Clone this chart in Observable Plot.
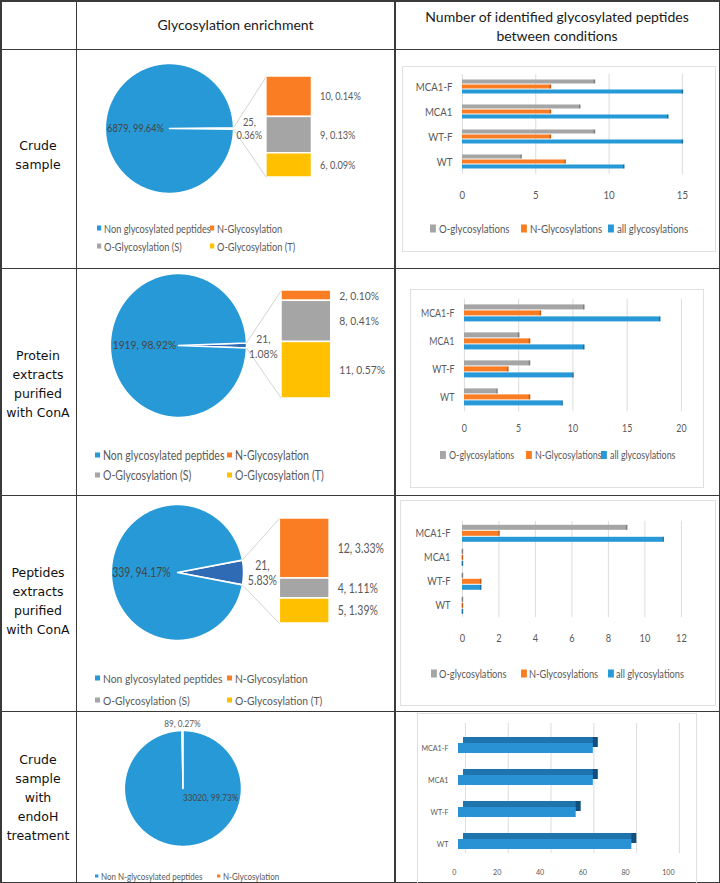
<!DOCTYPE html>
<html>
<head>
<meta charset="utf-8">
<script src="https://cdn.jsdelivr.net/npm/d3@7"></script>
<script src="https://cdn.jsdelivr.net/npm/@observablehq/plot@0.6"></script>
<style>
  html, body { margin: 0; padding: 0; background: #fff; }
  #page { position: relative; width: 720px; height: 883px; overflow: hidden; background: #fff; }
  .t { position: absolute; white-space: nowrap; transform: translate(-50%, -50%); }
</style>
</head>
<body>
<div id="page"></div>
<script>
// ---------------- DATA ----------------
const headerLeft = "Glycosylation enrichment";
const headerRight = ["Number of identified glycosylated peptides", "between conditions"];
const rowLabels = [
  ["Crude", "sample"],
  ["Protein", "extracts", "purified", "with ConA"],
  ["Peptides", "extracts", "purified", "with ConA"],
  ["Crude", "sample", "with", "endoH", "treatment"]
];

const pieSeries = ["Non glycosylated peptides", "N-Glycosylation", "O-Glycosylation (S)", "O-Glycosylation (T)"];
const pieSeriesEndoH = ["Non N-glycosylated peptides", "N-Glycosylation"];
const pieColors = ["#2799d6", "#fb7d23", "#a5a5a5", "#ffc000"];
const otherColor = "#2f6bb5";

const crudeCounts = [6879, 10, 9, 6];
const proteinConACounts = [1919, 2, 8, 11];
const peptideConACounts = [339, 12, 4, 5];
const endoHCounts = [33020, 89];

const conditions = ["MCA1-F", "MCA1", "WT-F", "WT"];
const barSeries = ["O-glycosylations", "N-Glycosylations", "all glycosylations"];
const barColors = ["#a5a5a5", "#fb7d23", "#2799d6"];
const barEdges = ["#7d7d7d", "#c4580f", "#1a6ea3"];

const crudeO = [9, 8, 9, 4], crudeN = [6, 6, 6, 7], crudeAll = [15, 14, 15, 11];
const proteinO = [11, 5, 6, 3], proteinN = [7, 6, 4, 6], proteinAll = [18, 11, 10, 9];
const peptideO = [9, 0, 0, 0], peptideN = [2, 0, 1, 0], peptideAll = [11, 0, 1, 0];
const endoHAll = [63, 63, 55, 81];

const crudeTicks = [0, 5, 10, 15];
const proteinTicks = [0, 5, 10, 15, 20];
const peptideTicks = [0, 2, 4, 6, 8, 10, 12];
const endoHTicks = [0, 20, 40, 60, 80, 100];

// ---------------- HELPERS ----------------
const FONT = "Lato,'Liberation Sans',sans-serif";
const HEAD_FONT = "Lato,'Liberation Sans',sans-serif";
const ROW_FONT = "'DejaVu Sans',Verdana,sans-serif";
const TEXT = "#595959";
const K = 0.84; // horizontal squeeze of the pasted chart images
const page = document.getElementById("page");

function div(css, html = "") {
  const d = document.createElement("div");
  d.style.cssText = css;
  d.innerHTML = html;
  page.appendChild(d);
  return d;
}
function rule(x, y, w, h, c = "#3a3a3a") {
  div(`position:absolute;left:${x}px;top:${y}px;width:${w}px;height:${h}px;background:${c}`);
}
function panel(x0, y0, x1, y1) {
  div(`position:absolute;left:${x0}px;top:${y0}px;width:${x1 - x0}px;height:${y1 - y0}px;border:1px solid #e0e0e0;box-sizing:border-box`);
}
function text(str, cx, cy, font, size, color) {
  const d = div(`left:${cx}px;top:${cy}px;font-family:${font};font-size:${size}px;color:${color}`);
  d.className = "t";
  d.textContent = str;
}
function holder(L, T, W, H) {
  return div(`position:absolute;left:${L}px;top:${T}px;width:${W}px;height:${H}px;`);
}
function put(container, fig) {
  fig.style.position = "absolute";
  fig.style.left = "0px";
  fig.style.top = "0px";
  fig.style.maxWidth = "none";
  fig.style.transform = `scaleX(${K})`;
  fig.style.transformOrigin = "0 0";
  container.appendChild(fig);
}
function legend(items, colors, xs, ys, size, sw, sh, gap) {
  items.forEach((t, i) => {
    div(`position:absolute;left:${xs[i]}px;top:${ys[i]}px;transform:translateY(-50%) scaleX(${K});transform-origin:0 50%;display:flex;align-items:center;white-space:nowrap;font-family:${FONT};font-size:${size}px;color:${TEXT}`,
      `<span style="display:inline-block;width:${sw / K}px;height:${sh}px;background:${colors[i]};margin-right:${gap / K}px"></span>${t}`);
  });
}
function arcPoints(arc) {
  const n = Math.max(2, Math.ceil((arc.endAngle - arc.startAngle) / (Math.PI / 360)));
  const name = arc.data.name;
  return [{name, x: 0, y: 0}, ...d3.range(n + 1).map(i => {
    const t = arc.startAngle + (arc.endAngle - arc.startAngle) * i / n;
    return {name, x: Math.sin(t), y: Math.cos(t)};
  })];
}
function plotStyle(size) {
  return {overflow: "visible", background: "transparent", fontFamily: FONT, fontSize: size + "px", color: TEXT};
}

// ---------------- TABLE ----------------
rule(0, 0, 720, 1.5); rule(0, 881.5, 720, 1.5); rule(0, 0, 1.5, 883); rule(718.5, 0, 1.5, 883);
rule(75.5, 0, 1.5, 883); rule(394, 0, 1.5, 883);
[48.5, 267.5, 494.5, 710.5].forEach(y => rule(0, y, 720, 1.5));

text(headerLeft, 235.5, 24, HEAD_FONT, 14, "#1a1a1a");
text(headerRight[0], 557, 16, HEAD_FONT, 14, "#1a1a1a");
text(headerRight[1], 557, 34.5, HEAD_FONT, 14, "#1a1a1a");

const rowCenters = [154.5, 383.5, 600, 797];
rowLabels.forEach((lines, r) => {
  lines.forEach((ln, i) => text(ln, 38, rowCenters[r] + (i - (lines.length - 1) / 2) * 19, ROW_FONT, 12.5, "#111"));
});

// ---------------- BAR OF PIE ----------------
function barOfPie({counts, names, colors, box: [L, T, W, H], cx, cy, rx, ry, bar, fontSize, labelFrac, otherDx}) {
  const total = d3.sum(counts);
  const pct = v => (100 * v / total).toFixed(2) + "%";
  const subset = names.slice(1).map((name, i) => ({name, value: counts[i + 1]}));
  const otherSum = d3.sum(subset, d => d.value);
  const slices = [{name: "Other", value: otherSum}, {name: names[0], value: counts[0]}];
  const a = 2 * Math.PI * otherSum / total;
  const s0 = Math.PI / 2 - a / 2;
  const arcs = d3.pie().sort(null).value(d => d.value).startAngle(s0).endAngle(s0 + 2 * Math.PI)(slices);
  const pts = arcs.flatMap(arcPoints);
  const Wk = W / K;
  const xr = [(cx - rx - L) / K, (cx + rx - L) / K], yr = [cy + ry - T, cy - ry - T];
  const xs = d3.scaleLinear([-1, 1], xr), ys = d3.scaleLinear([-1, 1], yr);
  const bx0 = (bar.x0 - L) / K, bx1 = (bar.x1 - L) / K;
  const oth = arcs[0], main = arcs[1];
  const links = [
    {x1: Math.sin(oth.startAngle), y1: Math.cos(oth.startAngle), x2: xs.invert(bx0), y2: ys.invert(bar.y0 - T)},
    {x1: Math.sin(oth.endAngle), y1: Math.cos(oth.endAngle), x2: xs.invert(bx0), y2: ys.invert(bar.y1 - T)}
  ];
  const mm = (main.startAngle + main.endAngle) / 2, om = (oth.startAngle + oth.endAngle) / 2;
  const mainLabel = [{x: labelFrac * Math.sin(mm), y: labelFrac * Math.cos(mm), text: `${counts[0]}, ${pct(counts[0])}`}];
  const otherLabel = [{x: Math.sin(om), y: Math.cos(om), text: `${otherSum},\n${pct(otherSum)}`}];

  const h = holder(L, T, W, H);
  put(h, Plot.plot({
    width: Wk, height: H, margin: 0, style: plotStyle(fontSize),
    x: {type: "band", domain: ["sub"], range: [bx0, bx1], padding: 0, axis: null},
    y: {domain: [0, otherSum], range: [bar.y0 - T, bar.y1 - T], axis: null},
    color: {domain: names.slice(1), range: colors.slice(1)},
    marks: [
      Plot.barY(subset, Plot.stackY({x: () => "sub", y: "value", fill: "name", stroke: "white", strokeWidth: 1.5})),
      Plot.text(subset, Plot.stackY({x: () => "sub", y: "value", text: d => `${d.value}, ${pct(d.value)}`,
        dx: (bx1 - bx0) / 2 + 8 / K, textAnchor: "start", fill: TEXT}))
    ]
  }));
  put(h, Plot.plot({
    width: Wk, height: H, margin: 0, style: plotStyle(fontSize),
    x: {domain: [-1, 1], range: xr, axis: null},
    y: {domain: [-1, 1], range: yr, axis: null},
    color: {domain: [names[0], "Other"], range: [colors[0], otherColor]},
    marks: [
      Plot.line(pts, {x: "x", y: "y", z: "name", fill: "name", stroke: "white", strokeWidth: 1.6, curve: "linear-closed"}),
      Plot.link(links, {x1: "x1", y1: "y1", x2: "x2", y2: "y2", stroke: "#c9c9c9", strokeWidth: 0.9}),
      Plot.text(mainLabel, {x: "x", y: "y", text: "text", fill: "#454545"}),
      Plot.text(otherLabel, {x: "x", y: "y", text: "text", dx: otherDx / K, lineHeight: 1.2, fill: TEXT})
    ]
  }));
}

function plainPie({counts, names, colors, box: [L, T, W, H], cx, cy, rx, ry, fontSize}) {
  const total = d3.sum(counts);
  const pct = v => (100 * v / total).toFixed(2) + "%";
  const slices = names.map((name, i) => ({name, value: counts[i]}));
  const arcs = d3.pie().sort(null).value(d => d.value)(slices);
  const pts = arcs.flatMap(arcPoints);
  const xr = [(cx - rx - L) / K, (cx + rx - L) / K], yr = [cy + ry - T, cy - ry - T];
  const om = (arcs[1].startAngle + arcs[1].endAngle) / 2;
  const mainLabel = [{x: 0, y: -0.16, text: `${counts[0]}, ${pct(counts[0])}`}];
  const otherLabel = [{x: Math.sin(om), y: Math.cos(om), text: `${counts[1]}, ${pct(counts[1])}`}];
  const h = holder(L, T, W, H);
  put(h, Plot.plot({
    width: W / K, height: H, margin: 0, style: plotStyle(fontSize),
    x: {domain: [-1, 1], range: xr, axis: null},
    y: {domain: [-1, 1], range: yr, axis: null},
    color: {domain: names, range: colors},
    marks: [
      Plot.line(pts, {x: "x", y: "y", z: "name", fill: "name", stroke: "white", strokeWidth: 1.6, curve: "linear-closed"}),
      Plot.text(mainLabel, {x: "x", y: "y", text: "text", textAnchor: "start", fill: "#454545"}),
      Plot.text(otherLabel, {x: "x", y: "y", text: "text", dy: -7, fill: TEXT})
    ]
  }));
}

// ---------------- GROUPED BARS ----------------
function groupedBars({values, ticks, box: [L, T, W, H], mt, mr, mb, ml, pi, po, fontSize, tickPadX, tickPadY}) {
  const data = conditions.flatMap((c, i) => barSeries.map((s, j) => ({condition: c, series: s, value: values[j][i]})));
  const step = (H - mt - mb) / (conditions.length - pi + 2 * po);
  const gap = step * pi;
  const h = holder(L, T, W, H);
  put(h, Plot.plot({
    width: W / K, height: H, marginTop: mt, marginRight: mr / K, marginBottom: mb, marginLeft: ml / K,
    style: plotStyle(fontSize),
    x: {domain: [ticks[0], ticks[ticks.length - 1]], ticks, tickSize: 0, tickPadding: tickPadX, label: null},
    y: {domain: barSeries, axis: null, paddingInner: 0.12, paddingOuter: 0},
    fy: {domain: conditions, axis: "left", label: null, tickSize: 0, tickPadding: tickPadY / K, paddingInner: pi, paddingOuter: po},
    color: {domain: barSeries, range: barColors},
    marks: [
      Plot.ruleX(ticks, {stroke: "#d9d9d9", insetTop: -gap / 2, insetBottom: -gap / 2}),
      Plot.barX(data, {x: "value", y: "series", fy: "condition", fill: "series"}),
      ...barSeries.map((s, j) => Plot.tickX(data.filter(d => d.series === s),
        {x: "value", y: "series", fy: "condition", stroke: barEdges[j], strokeWidth: 1.8}))
    ]
  }));
}

function bars3D({values, ticks, box: [L, T, W, H]}) {
  const data = conditions.map((c, i) => ({condition: c, value: values[i]}));
  const h = holder(L, T, W, H);
  put(h, Plot.plot({
    width: W / K, height: H, marginTop: 11, marginRight: 51 / K, marginBottom: 29, marginLeft: 58 / K,
    style: plotStyle(8.5),
    x: {domain: [0, 100], ticks, tickSize: 0, tickPadding: 15, label: null},
    y: {domain: conditions, range: [30, 138], paddingInner: 0.694, paddingOuter: 0, tickSize: 0, tickPadding: 6 / K, label: null},
    marks: [
      Plot.ruleX(ticks, {dx: 11 / K, stroke: "#d9d9d9"}),
      Plot.barX(data, {x: "value", y: "condition", fill: "#124f7c", dx: 9 / K, dy: -6}),
      Plot.barX(data, {x: "value", y: "condition", fill: "#1f74ae", dx: 9 / K, dy: -6, insetRight: 5 / K}),
      Plot.barX(data, {x: "value", y: "condition", fill: "#2892d4", dx: 4 / K})
    ]
  }));
}

// ---------------- ROW 1 ----------------
barOfPie({counts: crudeCounts, names: pieSeries, colors: pieColors, box: [77, 50, 317, 217],
  cx: 169, cy: 128, rx: 64, ry: 65, bar: {x0: 266, x1: 312, y0: 76, y1: 177}, fontSize: 11, labelFrac: 0.53, otherDx: 16});
legend(pieSeries, pieColors, [97, 210, 97, 210], [228, 228, 246, 246], 11, 4.5, 4.5, 2.5);
panel(402, 66, 716, 252);
groupedBars({values: [crudeO, crudeN, crudeAll], ticks: crudeTicks, box: [396, 50, 322, 217],
  mt: 25.5, mr: 36, mb: 94.5, ml: 66, pi: 0.3077, po: 0.02, fontSize: 11.5, tickPadX: 20, tickPadY: 10});
legend(barSeries, barColors, [430, 521, 608], [228, 228, 228], 11.5, 6, 8, 3);

// ---------------- ROW 2 ----------------
barOfPie({counts: proteinConACounts, names: pieSeries, colors: pieColors, box: [77, 269, 317, 225],
  cx: 178, cy: 345, rx: 68, ry: 72, bar: {x0: 281, x1: 331, y0: 290, y1: 398}, fontSize: 12.3, labelFrac: 0.5, otherDx: 17});
legend(pieSeries, pieColors, [95, 227, 95, 227], [455, 455, 475, 475], 12.5, 5, 5, 3);
panel(410, 289, 704, 488);
groupedBars({values: [proteinO, proteinN, proteinAll], ticks: proteinTicks, box: [396, 269, 322, 225],
  mt: 29.6, mr: 37, mb: 83.6, ml: 68, pi: 0.3, po: 0.12, fontSize: 10.5, tickPadX: 17, tickPadY: 10});
legend(barSeries, barColors, [440, 526, 601], [455, 455, 455], 10.6, 6, 8, 3);

// ---------------- ROW 3 ----------------
barOfPie({counts: peptideConACounts, names: pieSeries, colors: pieColors, box: [77, 496, 317, 214],
  cx: 177, cy: 572, rx: 66, ry: 68, bar: {x0: 279, x1: 329, y0: 518, y1: 623}, fontSize: 12.5, labelFrac: 0.545, otherDx: 19});
legend(pieSeries, pieColors, [95, 227, 95, 227], [678, 678, 700, 700], 12.3, 5, 5, 3);
panel(400, 500, 716, 706);
groupedBars({values: [peptideO, peptideN, peptideAll], ticks: peptideTicks, box: [396, 496, 322, 214],
  mt: 17.2, mr: 37, mb: 85, ml: 66, pi: 0.26, po: 0.44, fontSize: 11, tickPadX: 20, tickPadY: 12});
legend(barSeries, barColors, [431, 521, 608], [673, 673, 673], 11, 6, 8, 2);

// ---------------- ROW 4 ----------------
plainPie({counts: endoHCounts, names: pieSeriesEndoH, colors: pieColors.slice(0, 2), box: [77, 712, 317, 169],
  cx: 182.5, cy: 788, rx: 58.5, ry: 58, fontSize: 9.8});
legend(pieSeriesEndoH, pieColors.slice(0, 2), [95, 217], [876, 876], 9.5, 3.5, 3.5, 2.5);
panel(417, 713, 697, 884);
bars3D({values: endoHAll, ticks: endoHTicks, box: [396, 712, 323, 170]});
</script>
</body>
</html>
